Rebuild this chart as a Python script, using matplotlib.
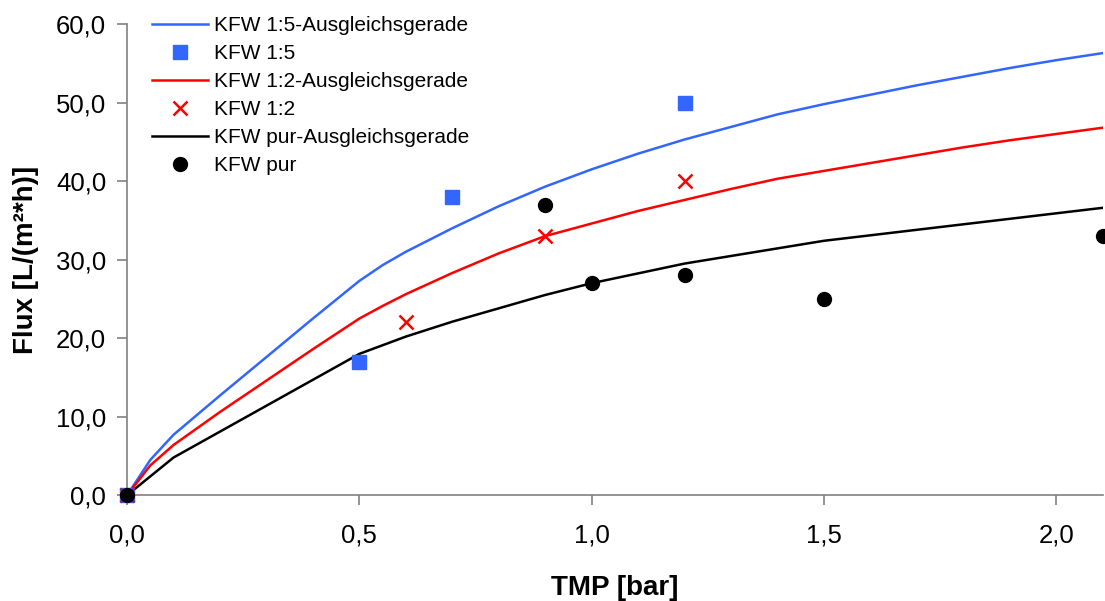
import matplotlib
matplotlib.use("Agg")
import matplotlib.pyplot as plt
from matplotlib.ticker import FuncFormatter

plt.rcParams["font.family"] = ["Liberation Sans", "DejaVu Sans"]

# fitted curves
fit_x = [0.0, 0.05, 0.1, 0.2, 0.3, 0.4, 0.5, 0.55, 0.6, 0.7, 0.8, 0.9, 1.0,
         1.1, 1.2, 1.3, 1.4, 1.5, 1.6, 1.7, 1.8, 1.9, 2.0, 2.1]
fit_15 = [0.0, 4.5, 7.7, 12.7, 17.6, 22.5, 27.3, 29.3, 31.0, 34.0, 36.8, 39.3, 41.5,
          43.5, 45.3, 46.9, 48.5, 49.8, 51.0, 52.2, 53.3, 54.4, 55.4, 56.3]
fit_12 = [0.0, 3.8, 6.4, 10.6, 14.6, 18.6, 22.5, 24.1, 25.6, 28.3, 30.8, 33.0, 34.6,
          36.2, 37.6, 39.0, 40.3, 41.3, 42.3, 43.3, 44.3, 45.2, 46.0, 46.8]
pur_fit_x = [0.0, 0.1, 0.5, 0.6, 0.7, 0.9, 1.0, 1.2, 1.5, 2.1]
pur_fit = [0.0, 4.8, 18.0, 20.2, 22.1, 25.5, 27.0, 29.5, 32.4, 36.6]

# measured points
x_15 = [0.0, 0.5, 0.7, 1.2]
y_15 = [0.0, 17.0, 38.0, 50.0]
x_12 = [0.0, 0.6, 0.9, 1.2]
y_12 = [0.0, 22.0, 33.0, 40.0]
x_pur = [0.0, 0.9, 1.0, 1.2, 1.5, 2.1]
y_pur = [0.0, 37.0, 27.0, 28.0, 25.0, 33.0]

blue = "#3366ff"
red = "#ff0000"

fig = plt.figure(figsize=(11.05, 6.01), dpi=100)
ax = fig.add_axes([0.115, 0.176, 0.883, 0.784])

ax.plot(fit_x, fit_15, color=blue, lw=1.8, label="KFW 1:5-Ausgleichsgerade")
ax.plot(x_15, y_15, "s", color=blue, ms=9.5, mec=blue, label="KFW 1:5",
        clip_on=False, zorder=3)
ax.plot(fit_x, fit_12, color=red, lw=1.8, label="KFW 1:2-Ausgleichsgerade")
ax.plot(x_12, y_12, "x", color=red, ms=10, mew=1.8, label="KFW 1:2",
        clip_on=False, zorder=3)
ax.plot(pur_fit_x, pur_fit, color="black", lw=1.8, label="KFW pur-Ausgleichsgerade")
ax.plot(x_pur, y_pur, "o", color="black", ms=10, label="KFW pur",
        clip_on=False, zorder=3)

ax.set_xlim(0, 2.1)
ax.set_ylim(0, 60)
ax.set_xticks([0, 0.5, 1.0, 1.5, 2.0])
ax.set_yticks(range(0, 61, 10))
fmt = FuncFormatter(lambda v, p: f"{v:.1f}".replace(".", ","))
ax.xaxis.set_major_formatter(fmt)
ax.yaxis.set_major_formatter(fmt)

for s in ["top", "right"]:
    ax.spines[s].set_visible(False)
for s in ["left", "bottom"]:
    ax.spines[s].set_color("#808080")
    ax.spines[s].set_linewidth(1.2)
ax.tick_params(direction="out", length=7, width=1.2, color="#808080", labelsize=18.5)
ax.tick_params(axis="x", pad=13)
ax.tick_params(axis="y", pad=8)

ax.set_xlabel("TMP [bar]", fontsize=20, fontweight="bold", labelpad=20)
ax.set_ylabel("Flux [L/(m²*h)]", fontsize=20, fontweight="bold", labelpad=12)

ax.legend(loc="upper left", bbox_to_anchor=(0.026, 1.017), frameon=False,
          fontsize=15, handlelength=2.65, handletextpad=0.3,
          labelspacing=0.43, borderaxespad=0, borderpad=0)

fig.savefig("out.png", dpi=100)
